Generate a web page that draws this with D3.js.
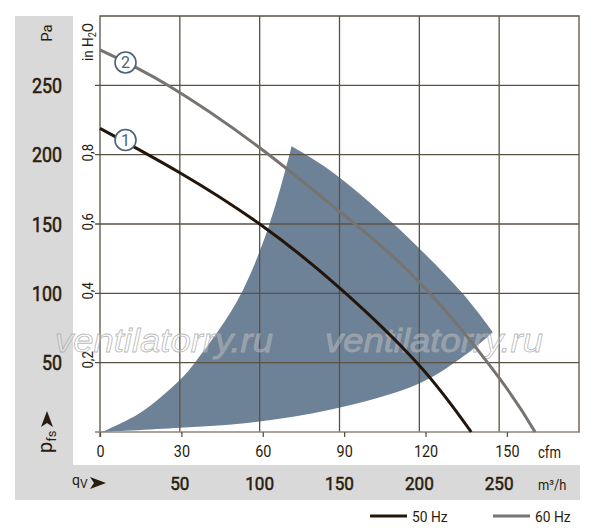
<!DOCTYPE html>
<html>
<head>
<meta charset="utf-8">
<script src="https://cdn.jsdelivr.net/npm/d3@7"></script>
<style>
  body { margin: 0; background: #fff; }
  svg text { font-family: Roboto, "Liberation Sans", sans-serif; }
</style>
</head>
<body>
<svg width="600" height="531"></svg>
<script>
// curve 1 (50 Hz) and curve 2 (60 Hz): flow in m3/h, static pressure in Pa
var flow50 = [0, 50, 100, 150, 200, 232.5];
var pres50 = [219, 187, 150, 104, 48, 0];
var flow60 = [0, 42.5, 100, 150, 200, 250, 272.5];
var pres60 = [275.5, 250, 205, 159, 108, 39, 0];

// operating range (shaded), three edges
var edgeLeftQ = [1.25, 25, 50, 59.4, 86.25, 106.25, 120];
var edgeLeftP = [0, 13.7, 37.5, 50, 95.2, 150, 206];
var edgeRightQ = [120, 143.75, 184, 227, 246];
var edgeRightP = [206, 189, 150, 100, 72];
var edgeLowQ = [246, 227, 200, 144, 93.75, 50, 1.25];
var edgeLowP = [72, 54, 35, 16, 6.7, 3.1, 0];

// tick labels
var paTicks = [50, 100, 150, 200, 250];
var inTicks = [0.2, 0.4, 0.6, 0.8];
var m3hTicks = [50, 100, 150, 200, 250];
var cfmTicks = [0, 30, 60, 90, 120, 150];

var PA_PER_IN = 249.09, M3H_PER_CFM = 1.699;
var ink = "#2a1c0e", gridCol = "#5b5246";

var svg = d3.select("svg");

var x = d3.scaleLinear().domain([0, 300]).range([100, 579]);
var y = d3.scaleLinear().domain([0, 300]).range([432, 16]);
var xCfm = d3.scaleLinear().domain([0, 300 / M3H_PER_CFM]).range([100, 579]);
var yIn = d3.scaleLinear().domain([0, 300 / PA_PER_IN]).range([432, 16]);

// narrow text: placed by transform, squeezed horizontally
function label(px, py, str, size, sx, opts) {
    opts = opts || {};
    var t = svg.append("text")
        .attr("transform", "translate(" + px + "," + py + ")" + (opts.rot ? " rotate(" + opts.rot + ")" : "") + " scale(" + sx + ",1)")
        .attr("font-size", size)
        .attr("fill", ink)
        .attr("text-anchor", opts.anchor || "start");
    if (opts.heavy) t.attr("stroke", ink).attr("stroke-width", opts.heavy);
    t.text(str);
    return t;
}

// grey frame
svg.append("rect").attr("x", 15).attr("y", 16).attr("width", 58).attr("height", 484).attr("fill", "#d9d9d9");
svg.append("rect").attr("x", 15).attr("y", 465).attr("width", 565).attr("height", 35).attr("fill", "#d9d9d9");

// shaded range
function zip(a, b) { return a.map(function(v, i){ return [v, b[i]]; }); }
var edge = d3.line()
    .x(function(d){ return x(d[0]); })
    .y(function(d){ return y(d[1]); })
    .curve(d3.curveCatmullRom);
var regionPath = edge(zip(edgeLeftQ, edgeLeftP))
    + edge(zip(edgeRightQ, edgeRightP)).replace(/^M/, "L")
    + edge(zip(edgeLowQ, edgeLowP)).replace(/^M/, "L") + "Z";
svg.append("path").attr("d", regionPath).attr("fill", "#6e8297");

// grid
svg.selectAll(".hgrid")
    .data(paTicks)
    .enter()
    .append("line")
    .attr("x1", 95).attr("x2", 579)
    .attr("y1", function(d){ return y(d); })
    .attr("y2", function(d){ return y(d); })
    .attr("stroke", gridCol).attr("stroke-width", 1.3);
svg.selectAll(".vgrid")
    .data(m3hTicks)
    .enter()
    .append("line")
    .attr("y1", 16).attr("y2", 432)
    .attr("x1", function(d){ return x(d); })
    .attr("x2", function(d){ return x(d); })
    .attr("stroke", gridCol).attr("stroke-width", 1.3);
svg.append("path")
    .attr("d", "M100,437V16H579V432")
    .attr("fill", "none").attr("stroke", gridCol).attr("stroke-width", 1.3);
svg.append("line").attr("x1", 95).attr("x2", 580).attr("y1", 432).attr("y2", 432)
    .attr("stroke", "#8c8478").attr("stroke-width", 1.5);

// watermark
["ventilatorry.ru", "ventilatorry.ru"].forEach(function(t, i){
    svg.append("text")
        .attr("x", 55 + i * 270).attr("y", 352)
        .attr("font-size", 33).attr("font-style", "italic")
        .attr("textLength", 218).attr("lengthAdjust", "spacingAndGlyphs")
        .style("font-family", "'Liberation Sans', Arial, sans-serif")
        .attr("fill", "#ffffff").attr("fill-opacity", 0.25)
        .attr("stroke", "#a8a8a8").attr("stroke-width", 0.8).attr("stroke-opacity", 0.8)
        .text(t);
});

// curves
var curve = d3.line()
    .x(function(d){ return x(d[0]); })
    .y(function(d){ return y(d[1]); })
    .curve(d3.curveNatural);
svg.append("path").attr("d", curve(zip(flow60, pres60)))
    .attr("fill", "none").attr("stroke", "#777370").attr("stroke-width", 3);
svg.append("path").attr("d", curve(zip(flow50, pres50)))
    .attr("fill", "none").attr("stroke", "#24150a").attr("stroke-width", 3);

// curve markers
[["1", 140], ["2", 62.5]].forEach(function(m){
    var g = svg.append("g").attr("transform", "translate(125.5," + m[1] + ")");
    g.append("circle").attr("r", 10.5).attr("fill", "#fff").attr("stroke", "#4a6277").attr("stroke-width", 1.6);
    g.append("text").attr("y", 5.5).attr("text-anchor", "middle").attr("font-size", 16)
        .attr("fill", "#4a6277").text(m[0]);
});

// Pa axis labels
paTicks.forEach(function(d){
    label(62, y(d) + 7.5, d, 21, 0.85, {anchor: "end", heavy: 0.6});
});
label(52, 33, "Pa", 15, 1, {anchor: "middle", rot: -90});

// in H2O axis
inTicks.forEach(function(d){
    label(93, yIn(d) - 3, String(d).replace(".", ","), 15, 0.88, {anchor: "middle", rot: -90});
});
var inLbl = label(93, 42, "", 15, 0.9, {anchor: "middle", rot: -90});
inLbl.append("tspan").text("in H");
inLbl.append("tspan").attr("font-size", 10).attr("dy", 3).text("2");
inLbl.append("tspan").attr("dy", -3).text("O");

// cfm axis
var cfmAxis = svg.append("g")
    .attr("transform", "translate(0,432)")
    .call(d3.axisBottom(xCfm).tickValues(cfmTicks).tickSize(5).tickPadding(9));
cfmAxis.select(".domain").remove();
cfmAxis.selectAll("line").attr("stroke", gridCol).attr("stroke-width", 1.3);
cfmAxis.selectAll("text").attr("font-size", 16).attr("fill", ink)
    .attr("transform", "scale(0.9,1)")
    .style("font-family", "Roboto, sans-serif");
label(538, 458, "cfm", 16, 0.82);

// m3/h axis
m3hTicks.forEach(function(d){
    label(x(d), 490, d, 19, 0.9, {anchor: "middle", heavy: 0.55});
});
label(538, 490, "m³/h", 14, 0.92);

// p_fs and q_V labels with arrowheads
var arrow = "M0,-6L16,0L0,6L4,0Z";
var pfs = label(52, 453, "", 20, 1, {rot: -90});
pfs.append("tspan").text("p");
pfs.append("tspan").attr("font-size", 13).attr("dy", 4).text("fs");
svg.append("path").attr("d", arrow).attr("fill", ink)
    .attr("transform", "translate(47,427) rotate(-90)");
var qv = label(72, 485, "", 14, 1);
qv.append("tspan").text("q");
qv.append("tspan").attr("font-size", 12).attr("dy", 3).text("V");
svg.append("path").attr("d", arrow).attr("fill", ink)
    .attr("transform", "translate(90,483)");

// legend
var legend = [["50 Hz", "#24150a", 370], ["60 Hz", "#777370", 493]];
legend.forEach(function(l){
    svg.append("line").attr("x1", l[2]).attr("x2", l[2] + 37).attr("y1", 516).attr("y2", 516)
        .attr("stroke", l[1]).attr("stroke-width", 3);
    label(l[2] + 42, 522, l[0], 15, 0.92);
});
</script>
</body>
</html>
